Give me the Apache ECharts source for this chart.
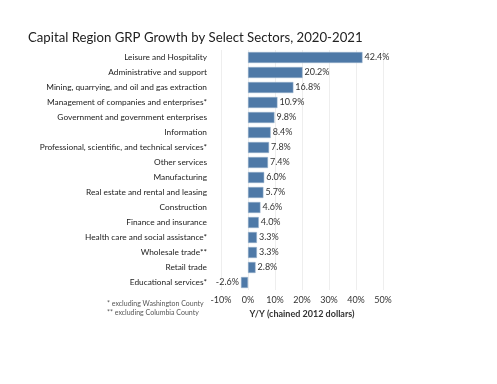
<!DOCTYPE html>
<html><head><meta charset="utf-8">
<script src="https://cdn.jsdelivr.net/npm/echarts@6/dist/echarts.min.js"></script>
<style>html,body{margin:0;padding:0;background:#fff}#c{width:497px;height:384px}</style>
</head><body><div id="c"></div>
<script>
const categories = [
  "Leisure and Hospitality",
  "Administrative and support",
  "Mining, quarrying, and oil and gas extraction",
  "Management of companies and enterprises*",
  "Government and government enterprises",
  "Information",
  "Professional, scientific, and technical services*",
  "Other services",
  "Manufacturing",
  "Real estate and rental and leasing",
  "Construction",
  "Finance and insurance",
  "Health care and social assistance*",
  "Wholesale trade**",
  "Retail trade",
  "Educational services*"
];
const growth = [42.4, 20.2, 16.8, 10.9, 9.8, 8.4, 7.8, 7.4, 6.0, 5.7, 4.6, 4.0, 3.3, 3.3, 2.8, -2.6];
const titleText = "Capital Region GRP Growth by Select Sectors, 2020-2021";
const axisName = "Y/Y (chained 2012 dollars)";
const footnotes = ["* excluding Washington County", "** excluding Columbia County"];

const chart = echarts.init(document.getElementById('c'), null, {renderer: 'canvas'});
const font = 'Lato, "Noto Sans", sans-serif';
chart.setOption({
  animation: false,
  backgroundColor: '#fff',
  title: {
    text: titleText, left: 28, top: 31, padding: 0,
    textStyle: {fontFamily: font, fontSize: 13.2, fontWeight: 'normal', color: '#222'}
  },
  graphic: [
    {type: 'text', left: 107, top: 300, style: {text: footnotes[0], fontFamily: font, fontSize: 7, fill: '#555'}},
    {type: 'text', left: 107, top: 309, style: {text: footnotes[1], fontFamily: font, fontSize: 7, fill: '#555'}}
  ],
  grid: {left: 221, right: 114, top: 50, bottom: 94},
  xAxis: {
    type: 'value', min: -10, max: 50, interval: 10,
    axisLabel: {formatter: '{value}%', fontFamily: font, fontSize: 9, color: '#333', margin: 6},
    axisLine: {show: false}, axisTick: {show: false},
    splitLine: {lineStyle: {color: '#eeeeee', width: 1}},
    name: axisName, nameLocation: 'middle', nameGap: 20,
    nameTextStyle: {fontFamily: font, fontSize: 9, fontWeight: 'bold', color: '#333'}
  },
  yAxis: {
    type: 'category', data: categories, inverse: true,
    axisLine: {show: false}, axisTick: {show: false},
    axisLabel: {fontFamily: font, fontSize: 8.3, color: '#222', margin: 14}
  },
  series: [{
    type: 'bar', barWidth: 11,
    data: growth.map(v => v < 0 ? {value: v, label: {position: 'left'}} : v),
    itemStyle: {color: '#4e79a7', borderColor: '#9fb6cf', borderWidth: 0.5},
    label: {show: true, position: 'right', distance: 2, formatter: p => p.value.toFixed(1) + '%',
      fontFamily: font, fontSize: 9, color: '#333'}
  }]
});
</script></body></html>
